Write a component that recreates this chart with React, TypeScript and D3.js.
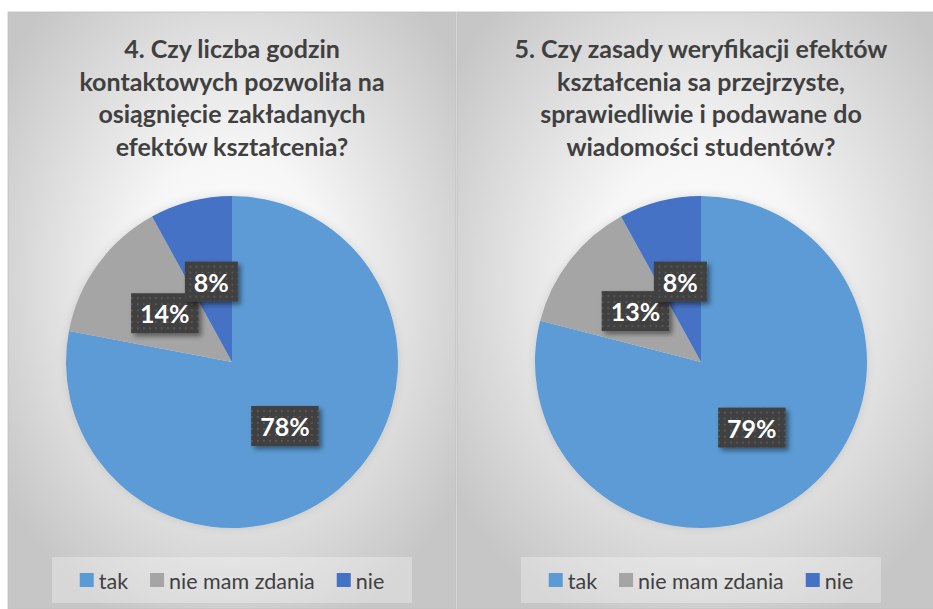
import React, { useEffect, useRef } from "react";
import * as d3 from "d3";

const categories = ["tak", "nie mam zdania", "nie"];
const colors = ["#5B9BD5", "#A5A5A5", "#4472C4"];
const q4Values = [78, 14, 8];
const q5Values = [79, 13, 8];
const q4Title = [
  "4. Czy liczba godzin",
  "kontaktowych pozwoliła na",
  "osiągnięcie zakładanych",
  "efektów kształcenia?",
];
const q5Title = [
  "5. Czy zasady weryfikacji efektów",
  "kształcenia sa przejrzyste,",
  "sprawiedliwie i podawane do",
  "wiadomości studentów?",
];

const W = 933;
const H = 609;
const FONT = "Lato, 'Open Sans', sans-serif";

const panels = [
  { id: "p4", x: 8, w: 448, values: q4Values, title: q4Title },
  { id: "p5", x: 457, w: 488, values: q5Values, title: q5Title },
];

export default function App() {
  const ref = useRef<SVGSVGElement | null>(null);

  useEffect(() => {
    const svg = d3.select(ref.current);
    svg.selectAll("*").remove();
    const defs = svg.append("defs");

    const pat = defs
      .append("pattern")
      .attr("id", "dots")
      .attr("width", 6)
      .attr("height", 6)
      .attr("patternUnits", "userSpaceOnUse");
    pat.append("rect").attr("width", 6).attr("height", 6).attr("fill", "#404040");
    pat.append("rect").attr("x", 2).attr("y", 2).attr("width", 2).attr("height", 2).attr("fill", "#555555");

    const shadow = defs
      .append("filter")
      .attr("id", "shadow")
      .attr("x", "-30%")
      .attr("y", "-30%")
      .attr("width", "160%")
      .attr("height", "160%");
    shadow
      .append("feDropShadow")
      .attr("dx", 3)
      .attr("dy", 3)
      .attr("stdDeviation", 2.5)
      .attr("flood-color", "#000")
      .attr("flood-opacity", 0.45);

    const pieShadow = defs
      .append("filter")
      .attr("id", "pieShadow")
      .attr("x", "-20%")
      .attr("y", "-20%")
      .attr("width", "140%")
      .attr("height", "140%");
    pieShadow
      .append("feDropShadow")
      .attr("dx", 0)
      .attr("dy", 0)
      .attr("stdDeviation", 4)
      .attr("flood-color", "#000")
      .attr("flood-opacity", 0.12);

    const pie = d3
      .pie<number>()
      .sort(null)
      .value((d) => d);

    panels.forEach((p) => {
      const grad = defs
        .append("radialGradient")
        .attr("id", "bg" + p.id)
        .attr("cx", "50%")
        .attr("cy", "45%")
        .attr("r", "62%");
      grad.append("stop").attr("offset", "0%").attr("stop-color", "#ffffff");
      grad.append("stop").attr("offset", "35%").attr("stop-color", "#f6f6f6");
      grad.append("stop").attr("offset", "100%").attr("stop-color", "#c6c6c6");

      const g = svg.append("g");
      const top = 12;
      const ph = H - top;
      g.append("rect")
        .attr("x", p.x)
        .attr("y", top)
        .attr("width", p.w)
        .attr("height", ph)
        .attr("fill", `url(#bg${p.id})`)
        .attr("stroke", "#bfbfbf")
        .attr("stroke-width", 0.8);

      const cx = p.x + p.w / 2;

      // title
      const t = g
        .append("text")
        .attr("text-anchor", "middle")
        .attr("font-family", FONT)
        .attr("font-weight", 700)
        .attr("font-size", 25)
        .attr("fill", "#404040");
      p.title.forEach((line, i) => {
        t.append("tspan").attr("x", cx).attr("y", 58 + i * 32.7).text(line);
      });

      // pie
      const cy = 362;
      const r = 166;
      const arc = d3.arc<d3.PieArcDatum<number>>().innerRadius(0).outerRadius(r);
      const arcs = pie(p.values);
      const pg = g.append("g").attr("transform", `translate(${cx},${cy})`);
      pg.append("g")
        .attr("filter", "url(#pieShadow)")
        .selectAll("path")
        .data(arcs)
        .join("path")
        .attr("d", arc)
        .attr("fill", (_, i) => colors[i]);

      // labels
      arcs.forEach((a) => {
        const [lx, ly] = arc.centroid(a);
        const lg = pg.append("g").attr("transform", `translate(${lx},${ly})`);
        const txt = `${a.data}%`;
        const rectSel = lg.append("rect").attr("filter", "url(#shadow)").attr("fill", "url(#dots)");
        const tx = lg
          .append("text")
          .attr("text-anchor", "middle")
          .attr("dominant-baseline", "central")
          .attr("font-family", FONT)
          .attr("font-weight", 700)
          .attr("font-size", 25)
          .attr("fill", "#ffffff")
          .text(txt);
        const tw = (tx.node() as SVGTextElement).getComputedTextLength();
        const bw = tw + 18;
        const bh = 40;
        rectSel.attr("x", -bw / 2).attr("y", -bh / 2).attr("width", bw).attr("height", bh);
      });

      // legend
      const lgY = 580;
      const lgG = g.append("g");
      const bg = lgG.append("rect").attr("fill", "#ffffff").attr("fill-opacity", 0.3);
      const items = lgG.append("g");
      let xo = 0;
      categories.forEach((c, i) => {
        const it = items.append("g").attr("transform", `translate(${xo},0)`);
        it.append("rect")
          .attr("x", 0)
          .attr("y", -7)
          .attr("width", 14)
          .attr("height", 14)
          .attr("fill", colors[i]);
        const tt = it
          .append("text")
          .attr("x", 19)
          .attr("y", 1)
          .attr("dominant-baseline", "central")
          .attr("font-family", FONT)
          .attr("font-size", 21.5)
          .attr("fill", "#404040")
          .text(c);
        const w = (tt.node() as SVGTextElement).getComputedTextLength();
        xo += 19 + w + (i < categories.length - 1 ? 22 : 0);
      });
      items.attr("transform", `translate(${cx - xo / 2},${lgY})`);
      const lw = 360;
      bg.attr("x", cx - lw / 2)
        .attr("y", 557)
        .attr("width", lw)
        .attr("height", 46);
    });
  }, []);

  return (
    <svg
      ref={ref}
      width={W}
      height={H}
      style={{ position: "absolute", left: 0, top: 0, background: "#ffffff" }}
    />
  );
}
